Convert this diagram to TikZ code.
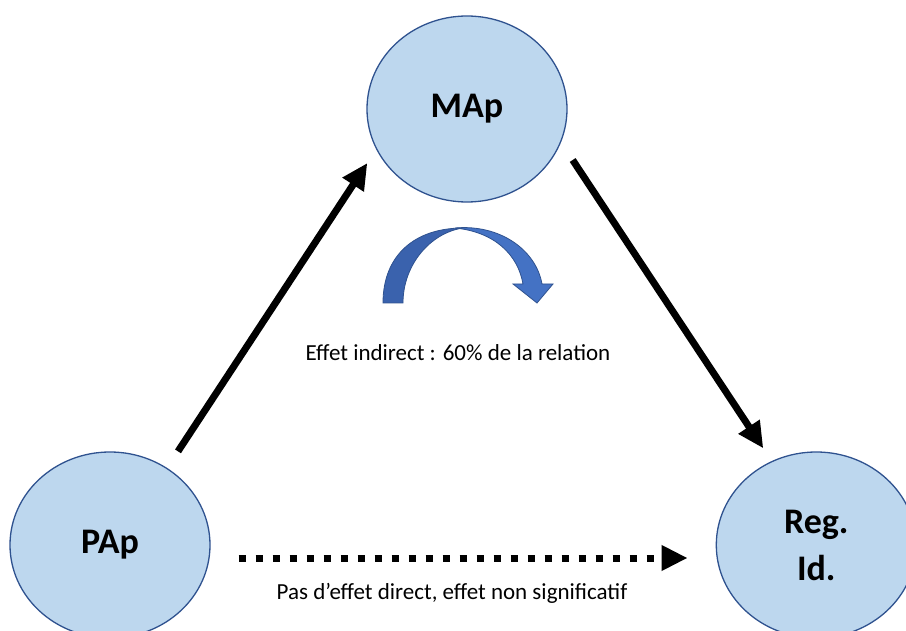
\documentclass[tikz,border=0pt]{standalone}
\usepackage{fontspec}
\setmainfont{Carlito}
\usepackage{tikz}
\usetikzlibrary{positioning,calc,arrows.meta,shapes.geometric}
\definecolor{bulle}{HTML}{BDD7EE}
\definecolor{bord}{HTML}{2F528F}
\definecolor{fleche}{HTML}{4472C4}
\definecolor{flechesombre}{HTML}{3A62AD}
\tikzstyle{var} = [ellipse,draw=bord,fill=bulle,line width=1.3pt,minimum width=200pt,minimum height=186pt,inner sep=0pt,align=center,font=\fontsize{36}{47}\selectfont\bfseries]
\tikzstyle{line} = [draw,line width=7pt,-{Triangle[length=26pt,width=24pt]}]
\tikzstyle{nonsig} = [line,dash pattern=on 7pt off 10pt]
\tikzstyle{legende} = [font=\fontsize{23}{27}\selectfont]

\begin{document}
\begin{tikzpicture}[x=1pt,y=-1pt]
    \useasboundingbox (0,0) rectangle (906,631);
    \node[var] (pap) at (110,545) {PAp};
    \node[var] (reg) [right=505pt of pap] {Reg.\\Id.};
    \node[var] (map) at (467,109) {MAp};
    \path [line] ([xshift=68pt]pap.north) -- ([xshift=1pt,yshift=-54pt]map.west);
    \path [line] ([xshift=5pt,yshift=-51pt]map.east) -- ([xshift=-53pt,yshift=3pt]reg.north);
    \path [nonsig] ([xshift=28pt,yshift=-13pt]pap.east) -- ([xshift=-28pt,yshift=-13pt]reg.west);
    % fleche courbe
    \filldraw[fill=flechesombre,draw=bord,line width=0.8pt] (383,303) .. controls (383,255) and (415,228) .. (463,228) .. controls (430,233) and (403,265) .. (403,303) -- cycle;
    \filldraw[fill=fleche,draw=bord,line width=0.8pt] (455,228) .. controls (500,224) and (536,250) .. (542,284) -- (553,284) -- (537,303) -- (513,284) -- (523,284) .. controls (518,255) and (495,232) .. (455,228) -- cycle;
    \node[legende] (indirect) at (458,353) {Effet indirect : 60\% de la relation};
    \node[legende] (direct) at (452,593) {Pas d’effet direct, effet non significatif};
\end{tikzpicture}
\end{document}
